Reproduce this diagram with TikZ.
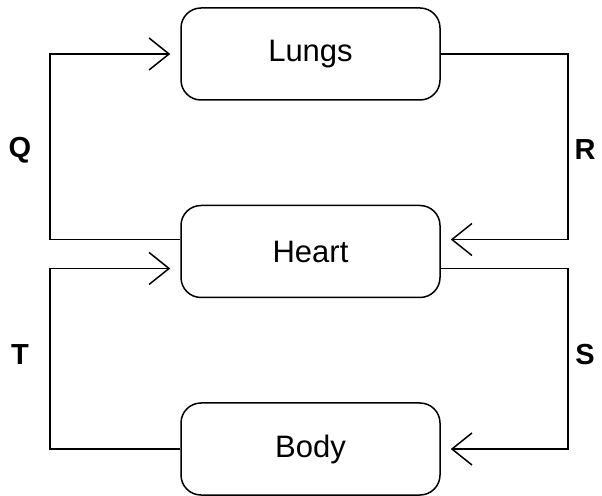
\documentclass[tikz,border=0pt]{standalone}
\usepackage{fontspec}
\setmainfont{Liberation Sans}
\usetikzlibrary{positioning,arrows.meta}

\tikzset{
   organ/.style={draw, line width=1.5pt, rounded corners=20pt, minimum width=259pt,
      minimum height=92pt, font=\fontsize{31}{36}\selectfont},
   flow/.style={line width=1.5pt},
   inflow/.style={flow, -{Straight Barb[length=20pt, width=32pt, line width=1.5pt]}, shorten >=10pt},
   tag/.style={font=\fontsize{29}{34}\selectfont\bfseries},
}

\begin{document}
\begin{tikzpicture}[x=1pt, y=1pt]
   \useasboundingbox (0,0) rectangle (602,495);
   \node[organ] (lungs) at (310.5,441) {Lungs};
   \node[organ, below=104pt of lungs] (heart) {Heart};
   \node[organ, below=104pt of heart] (body) {Body};
   \coordinate (left) at (50,0);
   \coordinate (right) at (568,0);
   % pulmonary loop
   \draw[inflow] ([yshift=12pt]heart.west) -| (left |- lungs) -- (lungs.west);
   \draw[inflow] (lungs.east) -| ([yshift=12pt]right |- heart) -- ([yshift=12pt]heart.east);
   % systemic loop
   \draw[inflow] ([yshift=-17pt]heart.east) -| (right |- body) -- (body.east);
   \draw[inflow] (body.west) -| ([yshift=-17pt]left |- heart) -- ([yshift=-17pt]heart.west);
   \node[tag] (q) at (20,345) {Q};
   \node[tag] (r) at (585,345) {R};
   \node[tag] (t) at (20,140) {T};
   \node[tag] (s) at (585,140) {S};
\end{tikzpicture}
\end{document}
